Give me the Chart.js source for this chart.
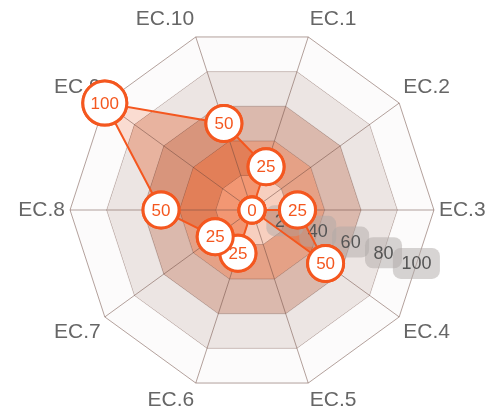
<!DOCTYPE html>
<html>
<head>
<meta charset="utf-8">
<script src="https://cdn.jsdelivr.net/npm/chart.js@4.4.1/dist/chart.umd.min.js"></script>
<style>
  html, body { margin: 0; padding: 0; background: #fff; }
  #wrap { width: 497px; height: 414px; }
</style>
</head>
<body>
<div id="wrap"><canvas id="radarChart"></canvas></div>
<script>
const labels = ['EC.1', 'EC.2', 'EC.3', 'EC.4', 'EC.5', 'EC.6', 'EC.7', 'EC.8', 'EC.9', 'EC.10'];
const scores = [25, 0, 25, 50, 0, 25, 25, 50, 100, 50];
const tickValues = [20, 40, 60, 80, 100];

// colors
const orange = '#f4571f';
const underColor = 'rgb(242,100,45)';
const lineColor = 'rgba(105,70,60,0.5)';
const fontFamily = "'Liberation Sans', Arial, sans-serif";
// band fills, outermost (80-100) first
const bandColors = [
  'rgba(251,250,250,0.8)',
  'rgba(227,216,213,0.68)',
  'rgba(208,164,148,0.77)',
  'rgba(222,135,100,0.78)',
  'rgba(242,180,155,0.64)'
];

// one dataset per grid ring, each filled down to the next ring
const ringValues = tickValues.slice().reverse();
const rings = ringValues.map((v, i) => ({
  data: labels.map(() => v),
  backgroundColor: bandColors[i],
  borderColor: lineColor,
  borderWidth: 1,
  pointRadius: 0,
  pointHoverRadius: 0,
  fill: i < ringValues.length - 1 ? '+1' : 'origin'
}));

function radiusFor(ctx) {
  const len = String(scores[ctx.dataIndex]).length;
  return len > 2 ? 22 : len > 1 ? 18 : 13;
}

// data fill sits under the rings, lines/points/labels on top
const layering = {
  id: 'layering',
  beforeDatasetsDraw(chart) {
    const pts = chart.getDatasetMeta(0).data;
    const ctx = chart.ctx;
    ctx.save();
    ctx.beginPath();
    pts.forEach((p, i) => i ? ctx.lineTo(p.x, p.y) : ctx.moveTo(p.x, p.y));
    ctx.closePath();
    ctx.fillStyle = underColor;
    ctx.fill();
    ctx.restore();
  },
  afterDatasetDraw(chart, args) {
    const ctx = chart.ctx;
    const s = chart.scales.r;
    if (args.index === 1) {
      // spokes
      ctx.save();
      ctx.strokeStyle = lineColor;
      ctx.lineWidth = 1;
      labels.forEach((l, i) => {
        const p = s.getPointPositionForValue(i, s.max);
        ctx.beginPath();
        ctx.moveTo(s.xCenter, s.yCenter);
        ctx.lineTo(p.x, p.y);
        ctx.stroke();
      });
      // tick labels
      const a = s.getIndexAngle(0);
      ctx.font = '18px ' + fontFamily;
      ctx.textAlign = 'center';
      ctx.textBaseline = 'middle';
      s.ticks.forEach(t => {
        if (t.value <= s.min) return;
        const d = s.getDistanceFromCenterForValue(t.value) * 0.95;
        const x = s.xCenter + Math.cos(a) * d;
        const y = s.yCenter + Math.sin(a) * d;
        const w = ctx.measureText(t.label).width + 17;
        ctx.fillStyle = 'rgba(175,170,168,0.5)';
        ctx.beginPath();
        ctx.roundRect(x - w / 2, y - 15.5, w, 31, 8);
        ctx.fill();
        ctx.fillStyle = '#555';
        ctx.fillText(t.label, x, y + 1);
      });
      ctx.restore();
    }
    if (args.index === 0) {
      // redraw each point with its value so later points overlap earlier text
      const meta = chart.getDatasetMeta(0);
      ctx.save();
      meta.data.forEach((p, i) => {
        p.draw(ctx, chart.chartArea);
        ctx.font = '17px ' + fontFamily;
        ctx.textAlign = 'center';
        ctx.textBaseline = 'middle';
        ctx.fillStyle = orange;
        ctx.fillText(String(scores[i]), p.x, p.y + 1);
      });
      ctx.restore();
    }
  }
};

new Chart(document.getElementById('radarChart'), {
  type: 'radar',
  data: {
    labels: labels,
    datasets: [
      {
        label: 'Score',
        data: scores,
        fill: false,
        borderColor: orange,
        borderWidth: 2,
        pointRadius: radiusFor,
        pointHoverRadius: radiusFor,
        pointBackgroundColor: '#fff',
        pointBorderColor: orange,
        pointBorderWidth: 3
      },
      ...rings
    ]
  },
  options: {
    responsive: true,
    maintainAspectRatio: false,
    animation: false,
    layout: { padding: { top: 8, bottom: 0, left: 7, right: 0 } },
    plugins: {
      legend: { display: false },
      tooltip: { enabled: false }
    },
    scales: {
      r: {
        min: 0,
        max: 100,
        startAngle: 18,
        ticks: { stepSize: 20, display: false },
        grid: { display: false },
        angleLines: { display: false },
        pointLabels: {
          color: '#666',
          padding: 5,
          font: { size: 21, family: fontFamily }
        }
      }
    }
  },
  plugins: [layering]
});
</script>
</body>
</html>
